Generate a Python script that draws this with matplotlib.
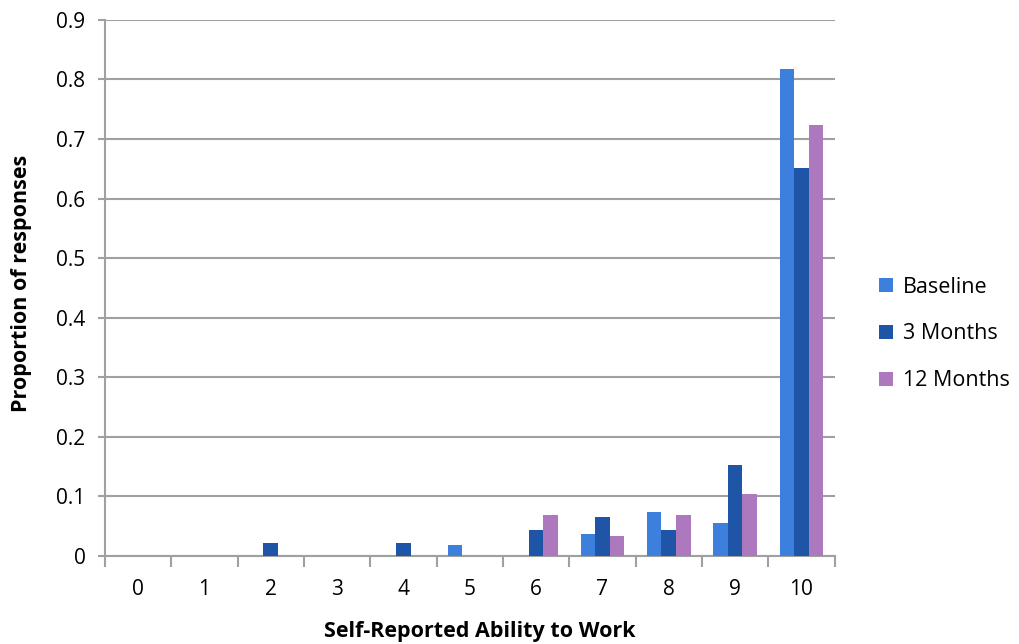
import numpy as np
import matplotlib
matplotlib.use("Agg")
import matplotlib.pyplot as plt

plt.rcParams["font.family"] = ["Open Sans", "DejaVu Sans"]

categories = ["0", "1", "2", "3", "4", "5", "6", "7", "8", "9", "10"]
baseline = [0, 0, 0, 0, 0, 0.018, 0, 0.036, 0.073, 0.055, 0.818]
months_3 = [0, 0, 0.022, 0, 0.022, 0, 0.043, 0.065, 0.043, 0.152, 0.652]
months_12 = [0, 0, 0, 0, 0, 0, 0.069, 0.034, 0.069, 0.103, 0.724]

series = [("Baseline", baseline, "#3d7fdc"),
          ("3 Months", months_3, "#1f55a6"),
          ("12 Months", months_12, "#ad78be")]

fig = plt.figure(figsize=(10.19, 6.44), dpi=100)
ax = fig.add_axes([0.103, 0.137, 0.716, 0.832])

x = np.arange(len(categories))
w = 0.22
for i, (name, vals, col) in enumerate(series):
    ax.bar(x + (i - 1) * w, vals, width=w, color=col, label=name, zorder=3)

grid_col = "#a0a0a0"
ax.set_ylim(0, 0.9)
ax.set_yticks(np.arange(0, 0.91, 0.1))
ax.set_yticklabels(["0"] + [f"{v:.1f}" for v in np.arange(0.1, 0.91, 0.1)])
ax.set_xlim(-0.5, len(categories) - 0.5)
ax.set_xticks(x)
ax.set_xticklabels(categories)
ax.set_xticks(np.arange(-0.5, len(categories)), minor=True)
ax.tick_params(axis="x", which="major", length=0, labelsize=15, pad=17)
ax.tick_params(axis="x", which="minor", length=8, width=1.5, color=grid_col)
ax.tick_params(axis="y", length=5, width=1.5, color=grid_col, labelsize=15, pad=9)

ax.grid(True, axis="y", color=grid_col, linewidth=1.5, zorder=0)
for s in ["top", "right"]:
    ax.spines[s].set_visible(False)
ax.spines["left"].set_color(grid_col)
ax.spines["bottom"].set_color(grid_col)
ax.spines["left"].set_linewidth(1.5)
ax.spines["bottom"].set_linewidth(1.5)

ax.set_xlabel("Self-Reported Ability to Work", fontsize=15.5, fontweight="bold", va="center")
ax.set_ylabel("Proportion of responses", fontsize=15.5, fontweight="bold", va="center")
ax.xaxis.set_label_coords(0.514, -0.142)
ax.yaxis.set_label_coords(-0.114, 0.509)

ax.legend(loc="center left", bbox_to_anchor=(1.035, 0.414), frameon=False, fontsize=15.5,
          handlelength=0.65, handleheight=0.65, handletextpad=0.45, labelspacing=1.2)

fig.savefig("out.png", dpi=100, facecolor="white")
